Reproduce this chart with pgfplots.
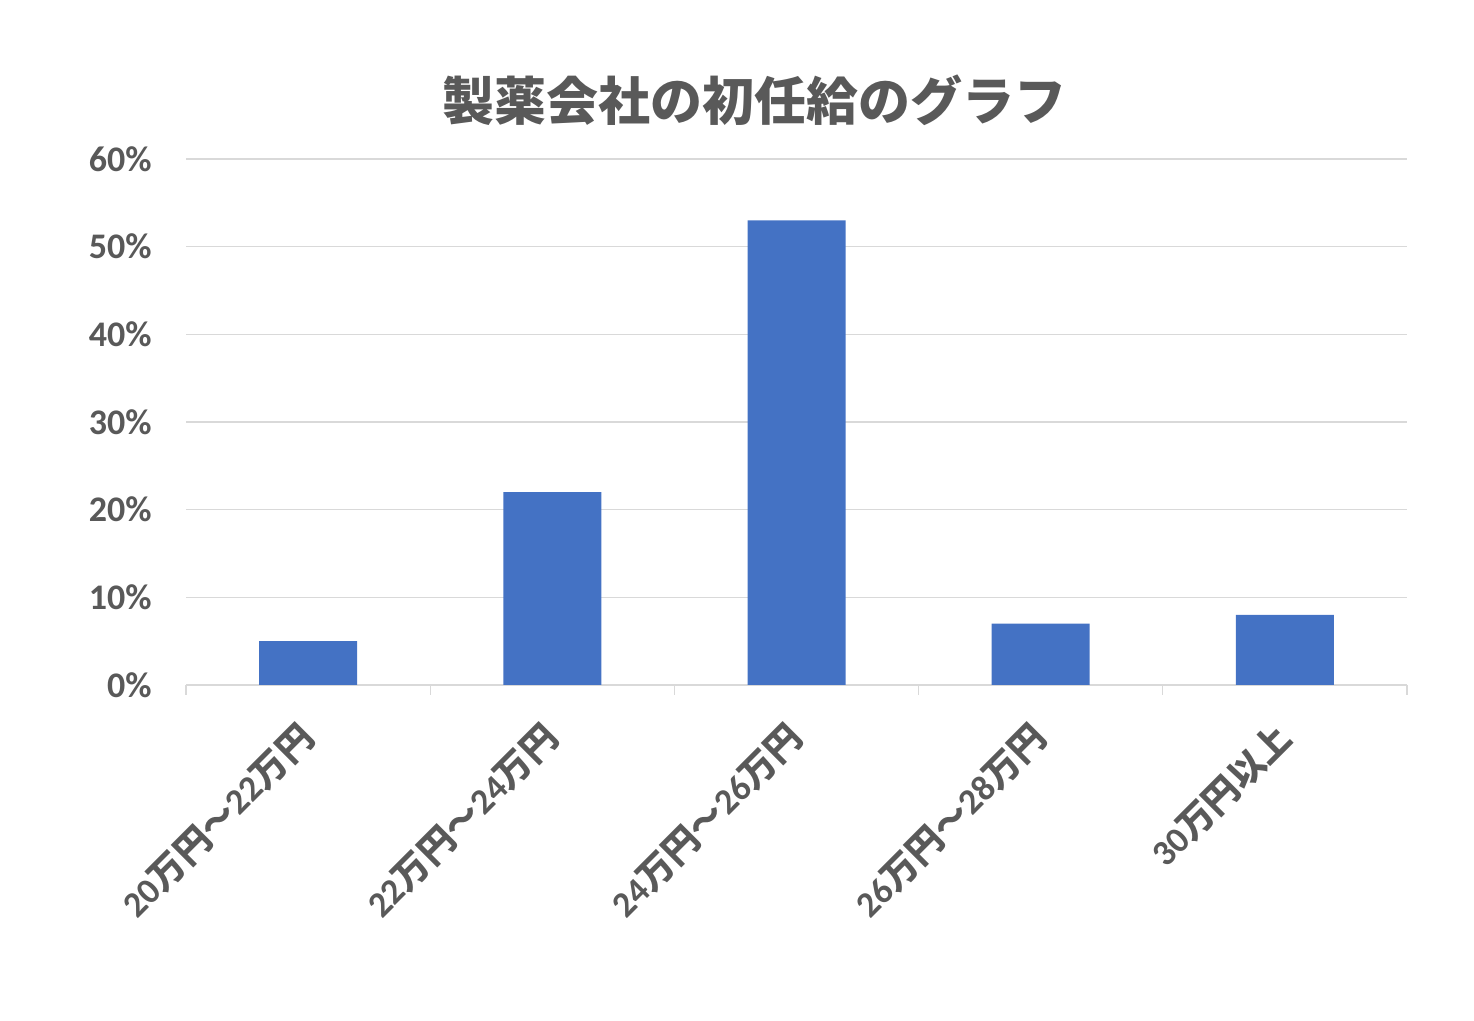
\documentclass[border=0pt]{standalone}
\usepackage{fontspec}
\setmainfont{Carlito}
\newfontfamily\cjk{Noto Sans CJK JP}
\usepackage{pgfplots}
\pgfplotsset{compat=1.18}
\definecolor{txt}{HTML}{595959}
\definecolor{grid}{HTML}{D9D9D9}
\definecolor{bar}{HTML}{4472C4}
\newcommand\J[1]{{\cjk #1}}
\begin{document}
\begin{tikzpicture}
\useasboundingbox (0,0) rectangle (737pt,510.5pt);
\node[font=\cjk\bfseries\fontsize{26}{30}\selectfont, text=txt] at (377pt,460.5pt) {製薬会社の初任給のグラフ};
\begin{axis}[
  at={(93pt,168pt)}, anchor=south west,
  scale only axis, width=610.5pt, height=263pt,
  xmin=-0.5, xmax=4.5, ymin=0, ymax=60,
  axis line style={draw=none},
  ytick={0,10,20,30,40,50,60},
  yticklabels={0\%,10\%,20\%,30\%,40\%,50\%,60\%},
  xmajorgrids=false, xminorgrids=false,
  ymajorgrids=true, yminorgrids=false,
  major grid style={draw=grid, line width=0.6pt},
  xtick={0,1,2,3,4},
  xticklabels={{20\J{万円～}22\J{万円}},{22\J{万円～}24\J{万円}},{24\J{万円～}26\J{万円}},{26\J{万円～}28\J{万円}},{30\J{万円以上}}},
  minor xtick={-0.5,0.5,1.5,2.5,3.5,4.5},
  xtick pos=bottom, ytick pos=left,
  tick align=outside, major tick length=0pt, minor tick length=5pt,
  minor tick style={draw=grid, line width=0.6pt},
  ticklabel style={font=\bfseries\fontsize{18}{20}\selectfont, text=txt, inner sep=0pt},
  yticklabel style={anchor=east, xshift=-17pt},
  xticklabel style={yshift=-23pt, rotate=45, anchor=east},
  ybar, bar width=49pt,
]
\addplot[fill=bar, draw=none] coordinates {(0,5) (1,22) (2,53) (3,7) (4,8)};
\end{axis}
\end{tikzpicture}
\end{document}
